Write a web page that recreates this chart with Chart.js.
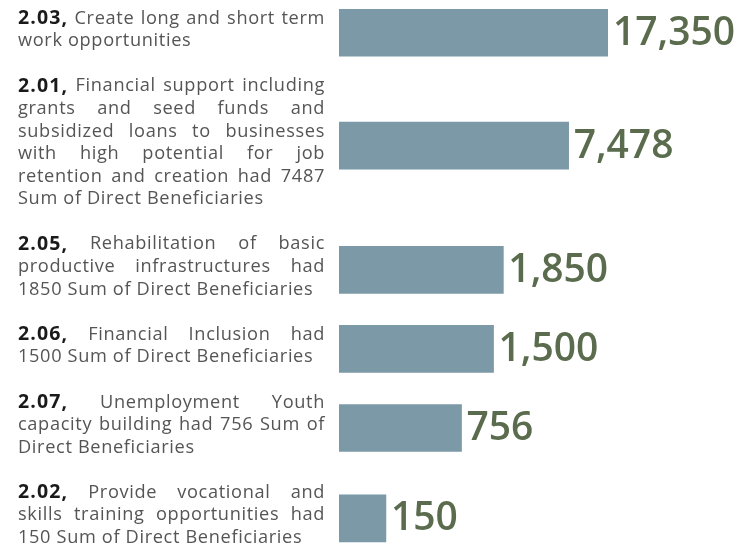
<!DOCTYPE html>
<html>
<head>
<meta charset="utf-8">
<script src="https://cdn.jsdelivr.net/npm/chart.js@4"></script>
<style>
  html, body { margin: 0; padding: 0; background: #fff; }
  #wrap { width: 743px; height: 547px; position: relative; }
</style>
</head>
<body>
<div id="wrap"><canvas id="chart"></canvas></div>
<script>
// each category is a list of lines, the first word is the code (bold)
const categories = [
    ['2.03, Create long and short term', 'work opportunities'],
    ['2.01, Financial support including', 'grants and seed funds and', 'subsidized loans to businesses', 'with high potential for job', 'retention and creation had 7487', 'Sum of Direct Beneficiaries'],
    ['2.05, Rehabilitation of basic', 'productive infrastructures had', '1850 Sum of Direct Beneficiaries'],
    ['2.06, Financial Inclusion had', '1500 Sum of Direct Beneficiaries'],
    ['2.07, Unemployment Youth', 'capacity building had 756 Sum of', 'Direct Beneficiaries'],
    ['2.02, Provide vocational and', 'skills training opportunities had', '150 Sum of Direct Beneficiaries']
];
const beneficiaries = [17350, 7478, 1850, 1500, 756, 150];

const barColor = '#7b99a7';
const valueColor = '#5a6c4d';
const textColor = '#555555';
const codeColor = '#1a1a1a';

// rows are stacked like the text blocks: one blank line between blocks
const rowPos = [];
let lineCount = 0;
categories.forEach(lines => {
    rowPos.push(lineCount + (lines.length - 1) / 2);
    lineCount += lines.length + 1;
});

const normalFont = '400 18.2px "Open Sans"';
const boldFont = '700 19.5px "Open Sans"';
const valueFont = '600 39px "Open Sans"';

const rowLabels = {
    id: 'rowLabels',
    afterDatasetsDraw(chart) {
        const ctx = chart.ctx;
        const yScale = chart.scales.y;
        const left = 18, right = 325;
        ctx.save();
        ctx.textBaseline = 'middle';
        ctx.textAlign = 'left';

        const setFont = (f) => {
            ctx.font = f;
            ctx.letterSpacing = f === boldFont ? '1.1px' : '0.65px';
        };

        categories.forEach((lines, i) => {
            lines.forEach((text, j) => {
                let py = yScale.getPixelForValue(rowPos[i] - (lines.length - 1) / 2 + j) - 3;
                let words = text.split(' ');
                let fonts = words.map((w, k) => (j === 0 && k === 0) ? boldFont : normalFont);
                let widths = words.map((w, k) => { setFont(fonts[k]); return ctx.measureText(w).width; });
                let total = widths.reduce((a, b) => a + b, 0);
                setFont(normalFont);
                let gap = ctx.measureText(' ').width;
                if (j < lines.length - 1 && words.length > 1) {
                    gap = (right - left - total) / (words.length - 1);
                }
                let px = left;
                words.forEach((w, k) => {
                    setFont(fonts[k]);
                    ctx.fillStyle = fonts[k] === boldFont ? codeColor : textColor;
                    ctx.fillText(w, px, py);
                    px += widths[k] + gap;
                });
            });
        });

        ctx.letterSpacing = '0px';
        ctx.font = valueFont;
        ctx.fillStyle = valueColor;
        chart.getDatasetMeta(0).data.forEach((bar, i) => {
            ctx.fillText(beneficiaries[i].toLocaleString('en-US'), bar.x + 5, bar.y + 1);
        });
        ctx.restore();
    }
};

document.addEventListener('DOMContentLoaded', () => {
    let ctx = document.getElementById('chart');
    new Chart(ctx, {
        type: 'bar',
        data: {
            datasets: [{
                label: 'Sum of Direct Beneficiaries',
                data: beneficiaries.map((v, i) => ({ x: v, y: rowPos[i] })),
                backgroundColor: barColor,
                borderWidth: 0,
                barThickness: 47
            }]
        },
        options: {
            indexAxis: 'y',
            responsive: true,
            maintainAspectRatio: false,
            animation: false,
            layout: { padding: { left: 339, right: 135, top: 0, bottom: 0 } },
            plugins: {
                legend: { display: false },
                tooltip: { enabled: false }
            },
            scales: {
                x: {
                    type: 'logarithmic',
                    min: 55,
                    max: 17350,
                    display: false
                },
                y: {
                    type: 'linear',
                    reverse: true,
                    offset: false,
                    min: -0.95,
                    max: 23.27,
                    display: false
                }
            }
        },
        plugins: [rowLabels]
    });
});
</script>
</body>
</html>
